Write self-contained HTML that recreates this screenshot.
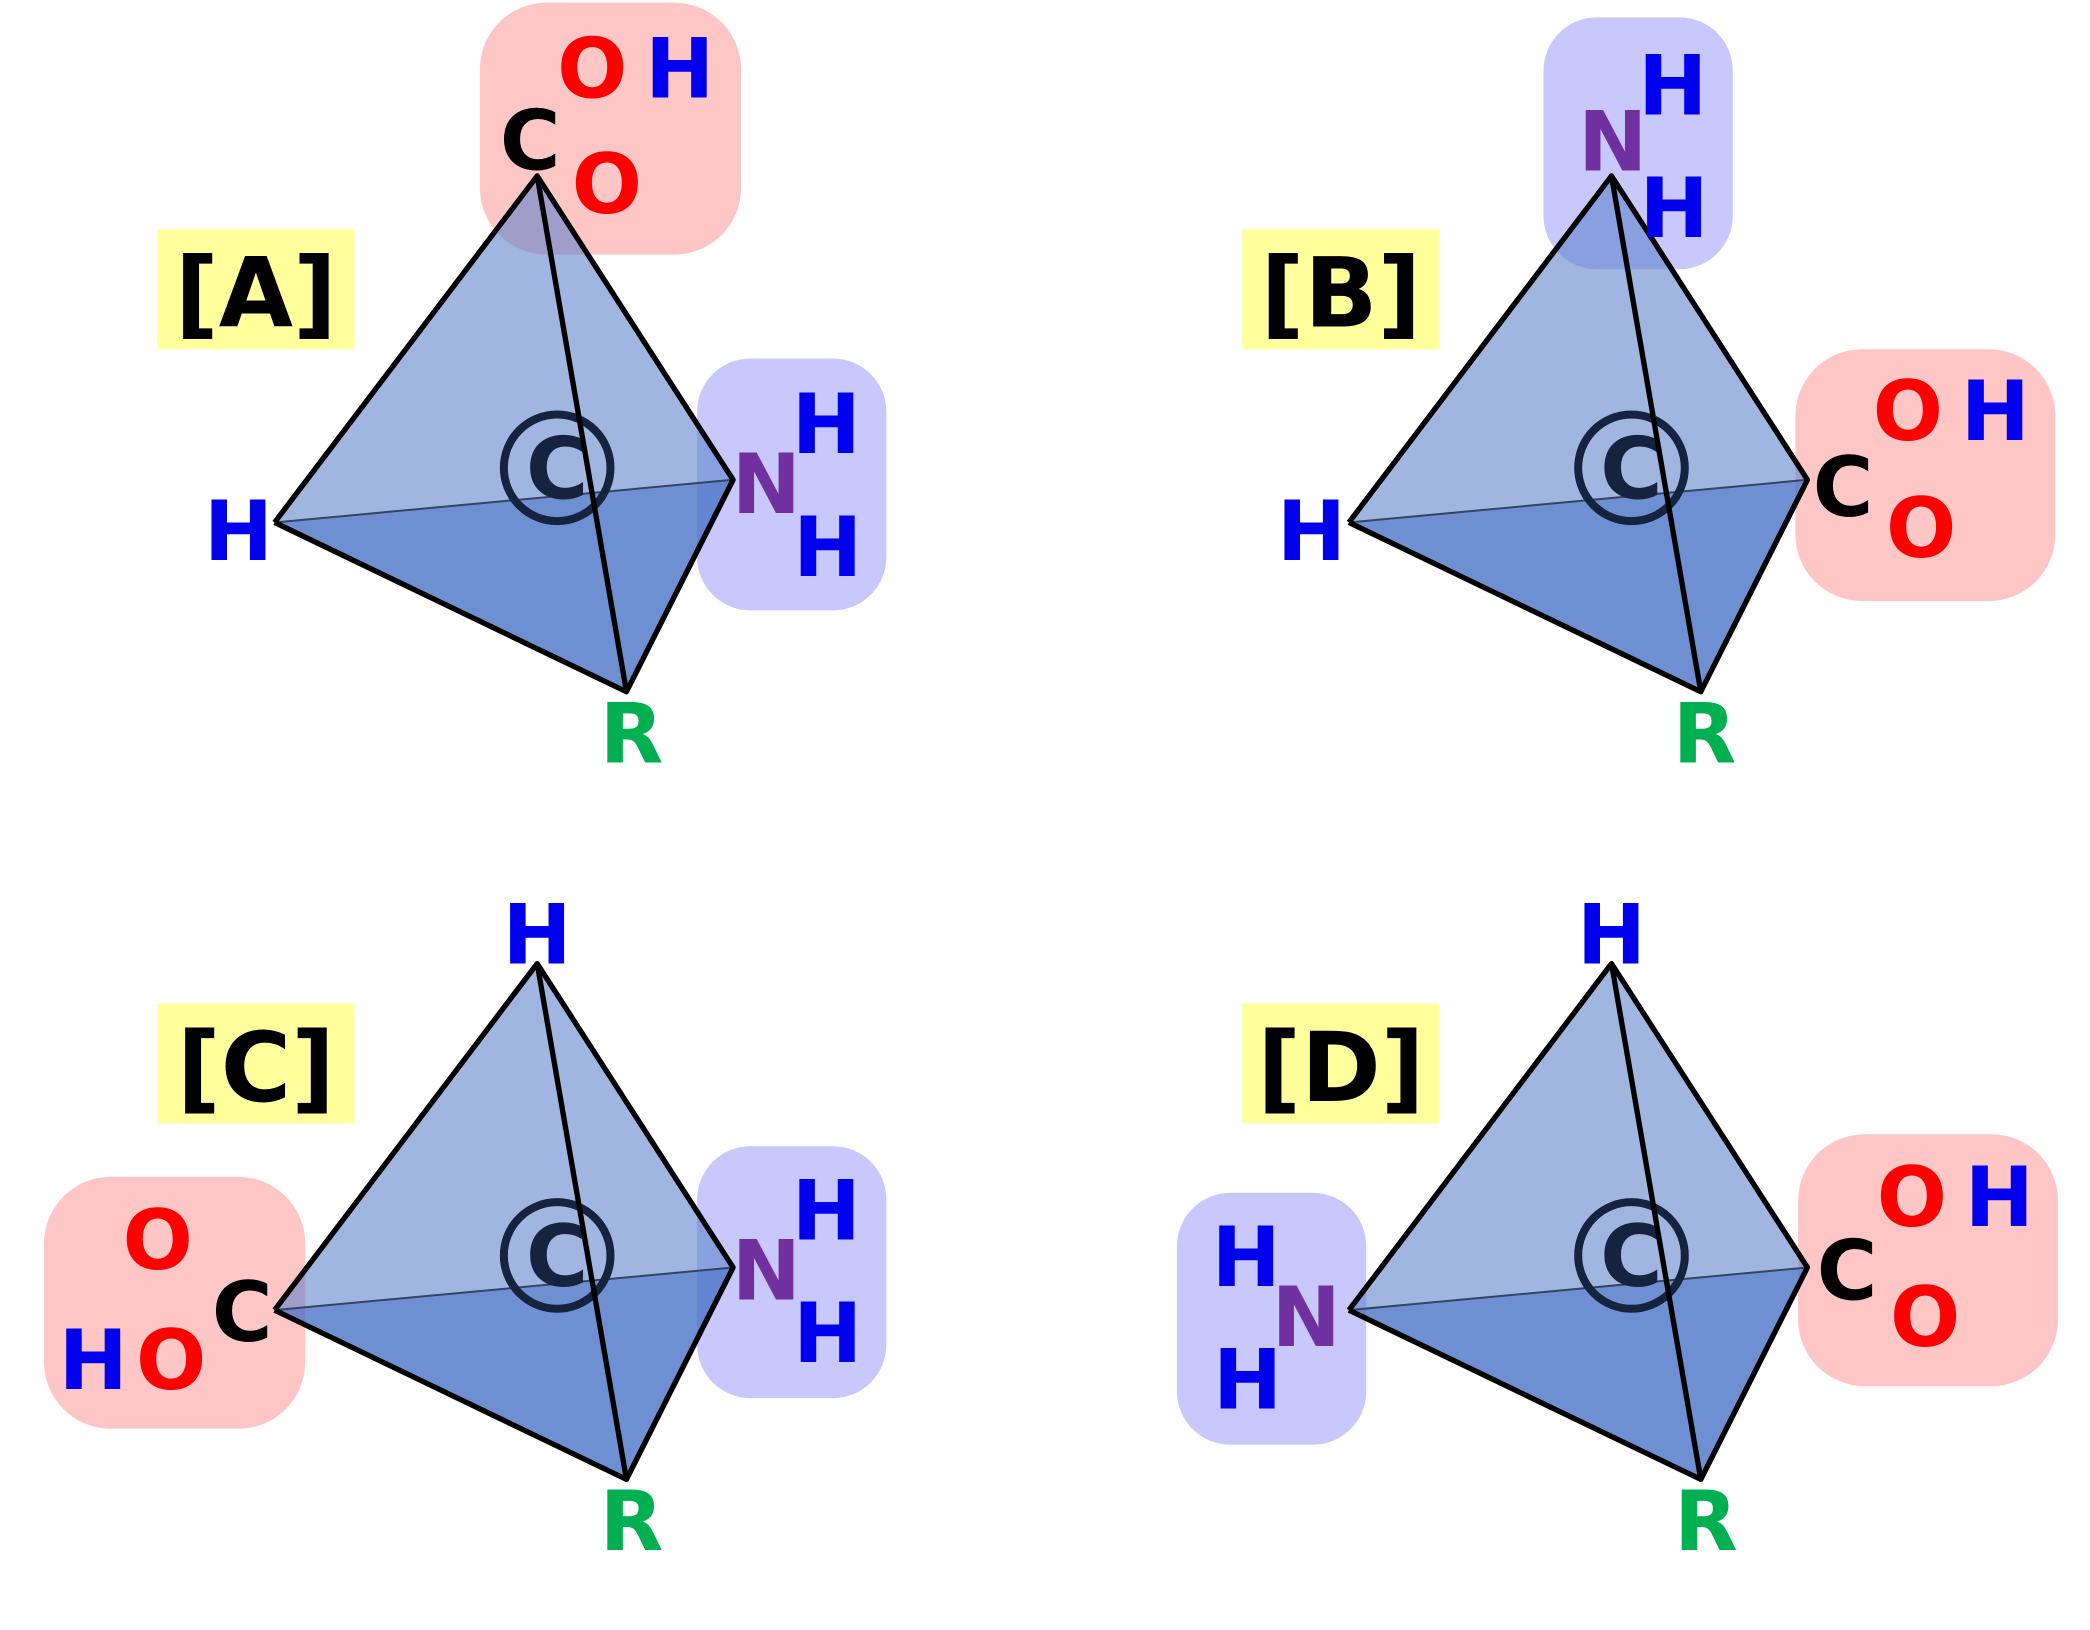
<!DOCTYPE html>
<html><head><meta charset="utf-8"><style>
html,body{margin:0;padding:0;background:#fff;}
svg{display:block;}
text{font-family:"DejaVu Sans","Liberation Sans",sans-serif;font-weight:bold;font-size:62px;}
.b{fill:#0000ee}.r{fill:#ff0000}.k{fill:#000}.p{fill:#7030a0}.g{fill:#00b050}
</style></head><body>
<svg width="2090" height="1630" viewBox="0 0 1568 1223" preserveAspectRatio="none" xmlns="http://www.w3.org/2000/svg">
<defs>
<g id="tet">
<polygon points="403,132 206,392 470,519 550,360" fill="rgb(91,129,202)" fill-opacity="0.58"/>
<polygon points="206,392 550,360 470,519" fill="rgb(60,105,195)" fill-opacity="0.5"/>
<line x1="206" y1="392" x2="550" y2="360" stroke="#334466" stroke-width="1.5"/>
<circle cx="418" cy="351" r="40" fill="none" stroke="#16233f" stroke-width="6"/>
<text x="418" y="374" text-anchor="middle" style="fill:#16233f;font-size:64px">C</text>
<g fill="none" stroke="#000" stroke-width="4" stroke-linejoin="round">
<polyline points="206,392 403,132 550,360 470,519 206,392"/>
<line x1="403" y1="132" x2="470" y2="519"/>
</g>
</g>
</defs>
<!-- Panel A -->
<rect x="360" y="2" width="196" height="189" rx="50" fill="#ffc6c6"/>
<rect x="523" y="269" width="142" height="189" rx="40" fill="#c8c8fc"/>
<rect x="118" y="172" width="148" height="90" fill="#ffff9c"/>
<text x="192" y="245" text-anchor="middle" class="k" style="font-size:72px">[A]</text>
<use href="#tet"/>
<text x="375" y="127" class="k">C</text>
<text x="418" y="73" class="r">O</text>
<text x="484" y="73" class="b">H</text>
<text x="429" y="160" class="r">O</text>
<text x="153" y="420" class="b">H</text>
<text x="549" y="385" class="p">N</text>
<text x="594" y="340" class="b">H</text>
<text x="595" y="432" class="b">H</text>
<text x="450" y="572" class="g">R</text>
<!-- Panel B -->
<rect x="1158" y="13" width="142" height="189" rx="40" fill="#c8c8fc"/>
<rect x="1347" y="262" width="195" height="189" rx="50" fill="#ffc6c6"/>
<rect x="932" y="172" width="148" height="90" fill="#ffff9c"/>
<text x="1006" y="245" text-anchor="middle" class="k" style="font-size:72px">[B]</text>
<use href="#tet" transform="translate(806,0)"/>
<text x="1184" y="128" class="p">N</text>
<text x="1229" y="86" class="b">H</text>
<text x="1230" y="178" class="b">H</text>
<text x="1360" y="387" class="k">C</text>
<text x="1405" y="330" class="r">O</text>
<text x="1471" y="330" class="b">H</text>
<text x="1415" y="418" class="r">O</text>
<text x="958" y="420" class="b">H</text>
<text x="1255" y="572" class="g">R</text>
<!-- Panel C -->
<rect x="33" y="883" width="196" height="189" rx="50" fill="#ffc6c6"/>
<rect x="523" y="860" width="142" height="189" rx="40" fill="#c8c8fc"/>
<rect x="118" y="753" width="148" height="90" fill="#ffff9c"/>
<text x="192" y="826" text-anchor="middle" class="k" style="font-size:72px">[C]</text>
<use href="#tet" transform="translate(0,591)"/>
<text x="377" y="723" class="b">H</text>
<text x="92" y="952" class="r">O</text>
<text x="159" y="1006" class="k">C</text>
<text x="44" y="1042" class="b">H</text>
<text x="102" y="1042" class="r">O</text>
<text x="549" y="975" class="p">N</text>
<text x="594" y="930" class="b">H</text>
<text x="595" y="1022" class="b">H</text>
<text x="450" y="1163" class="g">R</text>
<!-- Panel D -->
<rect x="883" y="895" width="142" height="189" rx="40" fill="#c8c8fc"/>
<rect x="1349" y="851" width="195" height="189" rx="50" fill="#ffc6c6"/>
<rect x="932" y="753" width="148" height="90" fill="#ffff9c"/>
<text x="1006" y="826" text-anchor="middle" class="k" style="font-size:72px">[D]</text>
<use href="#tet" transform="translate(806,591)"/>
<text x="1183" y="723" class="b">H</text>
<text x="909" y="965" class="b">H</text>
<text x="954" y="1010" class="p">N</text>
<text x="910" y="1057" class="b">H</text>
<text x="1363" y="975" class="k">C</text>
<text x="1408" y="920" class="r">O</text>
<text x="1474" y="920" class="b">H</text>
<text x="1418" y="1010" class="r">O</text>
<text x="1256" y="1163" class="g">R</text>
</svg>
</body></html>
